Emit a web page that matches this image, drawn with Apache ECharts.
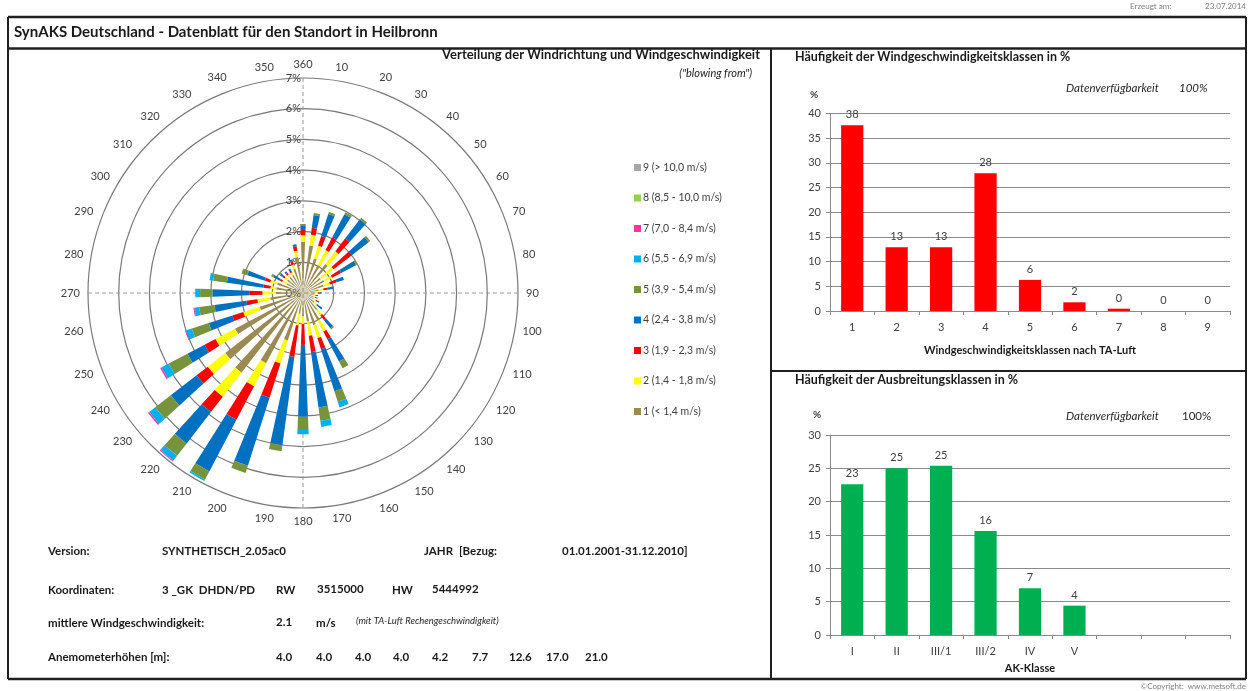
<!DOCTYPE html>
<html>
<head>
<meta charset="utf-8">
<title>SynAKS Deutschland - Heilbronn</title>
<script src="https://cdn.jsdelivr.net/npm/echarts@6/dist/echarts.min.js"></script>
<style>
  html, body { margin: 0; padding: 0; background: #ffffff; }
  #chart { width: 1248px; height: 691px; }
</style>
</head>
<body>
<div id="chart"></div>
<script>
// ---- wind rose: share (%) per direction sector and speed class ----
const directions = ['360', '10', '20', '30', '40', '50', '60', '70', '80', '90', '100', '110',
  '120', '130', '140', '150', '160', '170', '180', '190', '200', '210', '220', '230',
  '240', '250', '260', '270', '280', '290', '300', '310', '320', '330', '340', '350'];

const classNames = ['1 (< 1,4 m/s)', '2 (1,4 - 1,8 m/s)', '3 (1,9 - 2,3 m/s)', '4 (2,4 - 3,8 m/s)',
  '5 (3,9 - 5,4 m/s)', '6 (5,5 - 6,9 m/s)', '7 (7,0 - 8,4 m/s)', '8 (8,5 - 10,0 m/s)', '9 (> 10,0 m/s)'];

const class1 = [1.66, 1.56, 1.18, 1.03, 1.19, 0.74, 0.78, 0.70, 0.52, 0.40, 0.36, 0.36,
  0.40, 0.48, 0.70, 1.02, 1.10, 0.94, 0.76, 0.68, 1.63, 2.58, 3.28, 3.20,
  2.50, 1.48, 1.08, 0.88, 0.88, 0.88, 0.60, 0.65, 0.66, 0.66, 0.83, 1.18];
const class2 = [0.22, 0.35, 0.44, 0.55, 0.53, 0.52, 0.29, 0.22, 0.15, 0.08, 0.05, 0.05,
  0.08, 0.10, 0.22, 0.40, 0.44, 0.47, 0.25, 0.39, 0.78, 0.85, 0.99, 0.72,
  0.72, 0.56, 0.42, 0.44, 0.19, 0.24, 0.17, 0.12, 0.10, 0.10, 0.15, 0.21];
const class3 = [0.20, 0.23, 0.33, 0.47, 0.53, 0.74, 0.33, 0.23, 0.13, 0.07, 0.05, 0.05,
  0.05, 0.07, 0.18, 0.28, 0.38, 0.53, 0.68, 1.03, 1.17, 1.23, 0.63, 0.46,
  0.40, 0.37, 0.36, 0.43, 0.23, 0.18, 0.08, 0.08, 0.07, 0.07, 0.11, 0.15];
const class4 = [0.10, 0.42, 0.75, 0.85, 0.78, 0.70, 0.55, 0.25, 0.20, 0.05, 0.04, 0.04,
  0.07, 0.15, 0.35, 0.82, 1.44, 1.82, 2.34, 2.90, 2.32, 1.90, 1.30, 1.06,
  0.63, 0.81, 1.05, 1.20, 1.20, 0.60, 0.25, 0.10, 0.07, 0.07, 0.06, 0.06];
const class5 = [0.07, 0.07, 0.07, 0.07, 0.07, 0.07, 0.05, 0, 0, 0, 0, 0,
  0, 0, 0.05, 0.25, 0.35, 0.44, 0.43, 0.20, 0.25, 0.30, 0.50, 0.64,
  0.69, 0.58, 0.50, 0.40, 0.45, 0.20, 0.07, 0.05, 0, 0, 0, 0];
const class6 = [0, 0, 0, 0, 0, 0, 0, 0, 0, 0, 0, 0,
  0, 0, 0, 0, 0.20, 0.20, 0.14, 0, 0, 0.05, 0.20, 0.25,
  0.26, 0.20, 0.16, 0.15, 0.12, 0, 0, 0, 0, 0, 0, 0];
const class7 = [0, 0, 0, 0, 0, 0, 0, 0, 0, 0, 0, 0,
  0, 0, 0, 0, 0, 0, 0, 0, 0, 0, 0.03, 0.05,
  0.05, 0.03, 0.03, 0.02, 0, 0, 0, 0, 0, 0, 0, 0];
const class8 = [0, 0, 0, 0, 0, 0, 0, 0, 0, 0, 0, 0,
  0, 0, 0, 0, 0, 0, 0, 0, 0, 0, 0, 0,
  0, 0, 0, 0, 0, 0, 0, 0, 0, 0, 0, 0];
const class9 = [0, 0, 0, 0, 0, 0, 0, 0, 0, 0, 0, 0,
  0, 0, 0, 0, 0, 0, 0, 0, 0, 0, 0, 0,
  0, 0, 0, 0, 0, 0, 0, 0, 0, 0, 0, 0];

// ---- frequency of wind speed classes (TA-Luft) ----
const speedClassLabels = ['1', '2', '3', '4', '5', '6', '7', '8', '9'];
const speedClassShare = [37.6, 12.9, 12.9, 27.9, 6.3, 1.76, 0.47, 0, 0];

// ---- frequency of dispersion classes ----
const akLabels = ['I', 'II', 'III/1', 'III/2', 'IV', 'V', '', '', ''];
const akShare = [22.6, 25.0, 25.4, 15.6, 7.0, 4.4, null, null, null];

// ---- station metadata ----
const anemometerHeights = ['4.0', '4.0', '4.0', '4.0', '4.2', '7.7', '12.6', '17.0', '21.0'];

// ---- styling ----
const FONT = 'Lato, "Open Sans", "DejaVu Sans", sans-serif';
const classColors = ['#9b8b52', '#ffff00', '#ff0000', '#0070c0', '#77933c', '#00b0f0', '#ff3399', '#92d050', '#a6a6a6'];
const textDark = '#1a1a1a';
const textAxis = '#404040';
const gridGray = '#8a8a8a';
const frameColor = '#1f1f1f';

const roseClasses = [class1, class2, class3, class4, class5, class6, class7, class8, class9];

function txt(text, x, y, o) {
  o = o || {};
  const align = o.align || 'left';
  return {
    type: 'text', silent: true, z: 10,
    style: {
      text: text, x: x, y: y,
      fill: o.color || textDark,
      font: (o.italic ? 'italic ' : '') + (o.bold ? 'bold ' : '') + (o.size || 12) + 'px ' + FONT,
      textAlign: align, align: align,
      textVerticalAlign: 'middle', verticalAlign: 'middle'
    }
  };
}
function hline(x1, x2, y, w) {
  return { type: 'line', silent: true, z: 5, shape: { x1: x1, y1: y, x2: x2, y2: y }, style: { stroke: frameColor, lineWidth: w } };
}
function vline(x, y1, y2, w) {
  return { type: 'line', silent: true, z: 5, shape: { x1: x, y1: y1, x2: x, y2: y2 }, style: { stroke: frameColor, lineWidth: w } };
}

// x positions of the anemometer height columns
const heightColumnsX = [276, 316, 355, 393, 432, 472, 509, 546, 585];

const graphicElements = [
  // page frame
  hline(8, 1246, 17, 2.5),
  hline(8, 1246, 48.5, 2.5),
  hline(8, 1246, 679, 2.5),
  vline(8, 17, 679, 2),
  vline(1246, 17, 679, 2),
  vline(771, 48, 679, 2),
  hline(771, 1246, 371, 2),
  // header
  txt('SynAKS Deutschland - Datenblatt für den Standort in Heilbronn', 14, 32, { bold: true, size: 15 }),
  txt('Erzeugt am:', 1130, 6, { size: 8, color: '#7f7f7f' }),
  txt('23.07.2014', 1246, 6, { size: 8, color: '#7f7f7f', align: 'right' }),
  txt('©Copyright:  www.metsoft.de', 1246, 686, { size: 8, color: '#7f7f7f', align: 'right' }),
  // wind rose heading
  txt('Verteilung der Windrichtung und Windgeschwindigkeit', 760, 55, { bold: true, size: 13, align: 'right' }),
  txt('("blowing from")', 752, 73, { italic: true, size: 11, align: 'right' }),
  // right panels
  txt('Häufigkeit der Windgeschwindigkeitsklassen in %', 795, 57, { bold: true, size: 12.5 }),
  txt('Datenverfügbarkeit', 1066, 88, { italic: true, size: 11.5, color: '#262626' }),
  txt('100%', 1179, 88, { italic: true, size: 11.5, color: '#262626' }),
  txt('%', 810, 95, { size: 10, bold: true, color: '#404040' }),
  txt('Häufigkeit der Ausbreitungsklassen in %', 795, 380, { bold: true, size: 12.5 }),
  txt('Datenverfügbarkeit', 1066, 416, { italic: true, size: 11.5, color: '#262626' }),
  txt('100%', 1182, 416, { size: 11.5, color: '#262626' }),
  txt('%', 813, 415, { size: 10, bold: true, color: '#404040' }),
  // station info
  txt('Version:', 48, 551, { bold: true, size: 11.5 }),
  txt('SYNTHETISCH_2.05ac0', 162, 551, { bold: true, size: 11.5 }),
  txt('JAHR', 424, 551, { bold: true, size: 11.5 }),
  txt('[Bezug:', 459, 551, { bold: true, size: 11.5 }),
  txt('01.01.2001-31.12.2010]', 562, 551, { bold: true, size: 11.5 }),
  txt('Koordinaten:', 48, 590, { bold: true, size: 11.5 }),
  txt('3 _GK  DHDN/PD', 162, 590, { bold: true, size: 11.5 }),
  txt('RW', 276, 590, { bold: true, size: 11.5 }),
  txt('3515000', 317, 589, { bold: true, size: 11.5 }),
  txt('HW', 392, 590, { bold: true, size: 11.5 }),
  txt('5444992', 432, 589, { bold: true, size: 11.5 }),
  txt('mittlere Windgeschwindigkeit:', 48, 623, { bold: true, size: 11.5 }),
  txt('2.1', 276, 622, { bold: true, size: 11.5 }),
  txt('m/s', 316, 623, { bold: true, size: 11.5 }),
  txt('(mit TA-Luft Rechengeschwindigkeit)', 356, 621, { italic: true, size: 9.5, color: '#262626' }),
  txt('Anemometerhöhen [m]:', 48, 657, { bold: true, size: 11.5 })
].concat(anemometerHeights.map(function (h, i) {
  return txt(h, heightColumnsX[i], 657, { bold: true, size: 11.5 });
}));

const roseSeries = roseClasses.map(function (values, i) {
  return {
    type: 'bar', name: classNames[i], coordinateSystem: 'polar', polarIndex: 0,
    stack: 'rose', data: values, barWidth: '46%', silent: true, z: 3,
    itemStyle: { color: classColors[i] }
  };
});

function roundLabel(p) { return Math.round(p.value); }

const barAxisLabel = { color: textAxis, fontSize: 11, fontFamily: FONT };

const option = {
  animation: false,
  backgroundColor: '#ffffff',
  textStyle: { fontFamily: FONT },
  legend: {
    orient: 'vertical', left: 629, top: 157,
    itemWidth: 7, itemHeight: 7, itemGap: 19.5, icon: 'rect',
    selectedMode: false,
    data: classNames.slice().reverse(),
    textStyle: { fontSize: 10.5, color: '#404040', fontFamily: FONT, padding: [0, 0, 0, -3] }
  },
  polar: [
    { center: [303, 293], radius: 215 },
    { center: [303, 293], radius: 215 }
  ],
  angleAxis: [
    {
      polarIndex: 0, type: 'category', data: directions,
      startAngle: 95, clockwise: true, boundaryGap: true,
      axisLine: { show: false }, axisTick: { show: false }, splitLine: { show: false },
      axisLabel: { interval: 0, color: textAxis, fontSize: 11, margin: 8, fontFamily: FONT }
    },
    {
      polarIndex: 1, type: 'value', min: 0, max: 360, interval: 90,
      startAngle: 90, clockwise: true,
      axisLine: { show: false }, axisTick: { show: false }, axisLabel: { show: false },
      splitLine: { show: true, lineStyle: { color: '#9a9a9a', type: [4, 3], width: 1 } }
    }
  ],
  radiusAxis: [
    {
      polarIndex: 0, type: 'value', min: 0, max: 7, interval: 1,
      axisLine: { show: false }, axisTick: { show: false }, axisLabel: { show: false },
      splitLine: { show: true, lineStyle: { color: '#7a7a7a', width: 1.2 } }
    },
    {
      polarIndex: 1, type: 'value', min: 0, max: 7, interval: 1,
      axisLine: { show: false }, axisTick: { show: false }, splitLine: { show: false },
      axisLabel: { formatter: '{value}%', color: textAxis, fontSize: 11, margin: 2, fontFamily: FONT }
    }
  ],
  grid: [
    { left: 830, top: 113.5, width: 400, height: 197.5 },
    { left: 830, top: 435, width: 400, height: 200 }
  ],
  xAxis: [
    {
      gridIndex: 0, type: 'category', data: speedClassLabels,
      axisLine: { lineStyle: { color: gridGray } },
      axisTick: { show: true, length: 4, lineStyle: { color: gridGray } },
      axisLabel: Object.assign({ margin: 11 }, barAxisLabel),
      name: 'Windgeschwindigkeitsklassen nach TA-Luft', nameLocation: 'middle', nameGap: 34,
      nameTextStyle: { fontWeight: 'bold', fontSize: 11, color: textDark, fontFamily: FONT }
    },
    {
      gridIndex: 1, type: 'category', data: akLabels,
      axisLine: { lineStyle: { color: gridGray } },
      axisTick: { show: true, length: 4, lineStyle: { color: gridGray } },
      axisLabel: Object.assign({ margin: 11 }, barAxisLabel),
      name: 'AK-Klasse', nameLocation: 'middle', nameGap: 28,
      nameTextStyle: { fontWeight: 'bold', fontSize: 11, color: textDark, fontFamily: FONT }
    }
  ],
  yAxis: [
    {
      gridIndex: 0, type: 'value', min: 0, max: 40, interval: 5,
      axisLine: { show: true, lineStyle: { color: gridGray } },
      axisTick: { show: true, length: 4, lineStyle: { color: gridGray } },
      splitLine: { lineStyle: { color: gridGray, width: 1 } },
      axisLabel: Object.assign({ margin: 9 }, barAxisLabel)
    },
    {
      gridIndex: 1, type: 'value', min: 0, max: 30, interval: 5,
      axisLine: { show: true, lineStyle: { color: gridGray } },
      axisTick: { show: true, length: 4, lineStyle: { color: gridGray } },
      splitLine: { lineStyle: { color: gridGray, width: 1 } },
      axisLabel: Object.assign({ margin: 9 }, barAxisLabel)
    }
  ],
  series: roseSeries.concat([
    {
      type: 'bar', xAxisIndex: 0, yAxisIndex: 0, data: speedClassShare,
      barWidth: '50%', silent: true, itemStyle: { color: '#ff0000' },
      label: { show: true, position: 'top', distance: 5, formatter: roundLabel, color: textAxis, fontSize: 11, fontFamily: FONT }
    },
    {
      type: 'bar', xAxisIndex: 1, yAxisIndex: 1, data: akShare,
      barWidth: '50%', silent: true, itemStyle: { color: '#00b050' },
      label: { show: true, position: 'top', distance: 5, formatter: roundLabel, color: textAxis, fontSize: 11, fontFamily: FONT }
    }
  ]),
  graphic: { elements: graphicElements }
};

const chart = echarts.init(document.getElementById('chart'), null, { renderer: 'canvas' });
chart.setOption(option);
</script>
</body>
</html>
